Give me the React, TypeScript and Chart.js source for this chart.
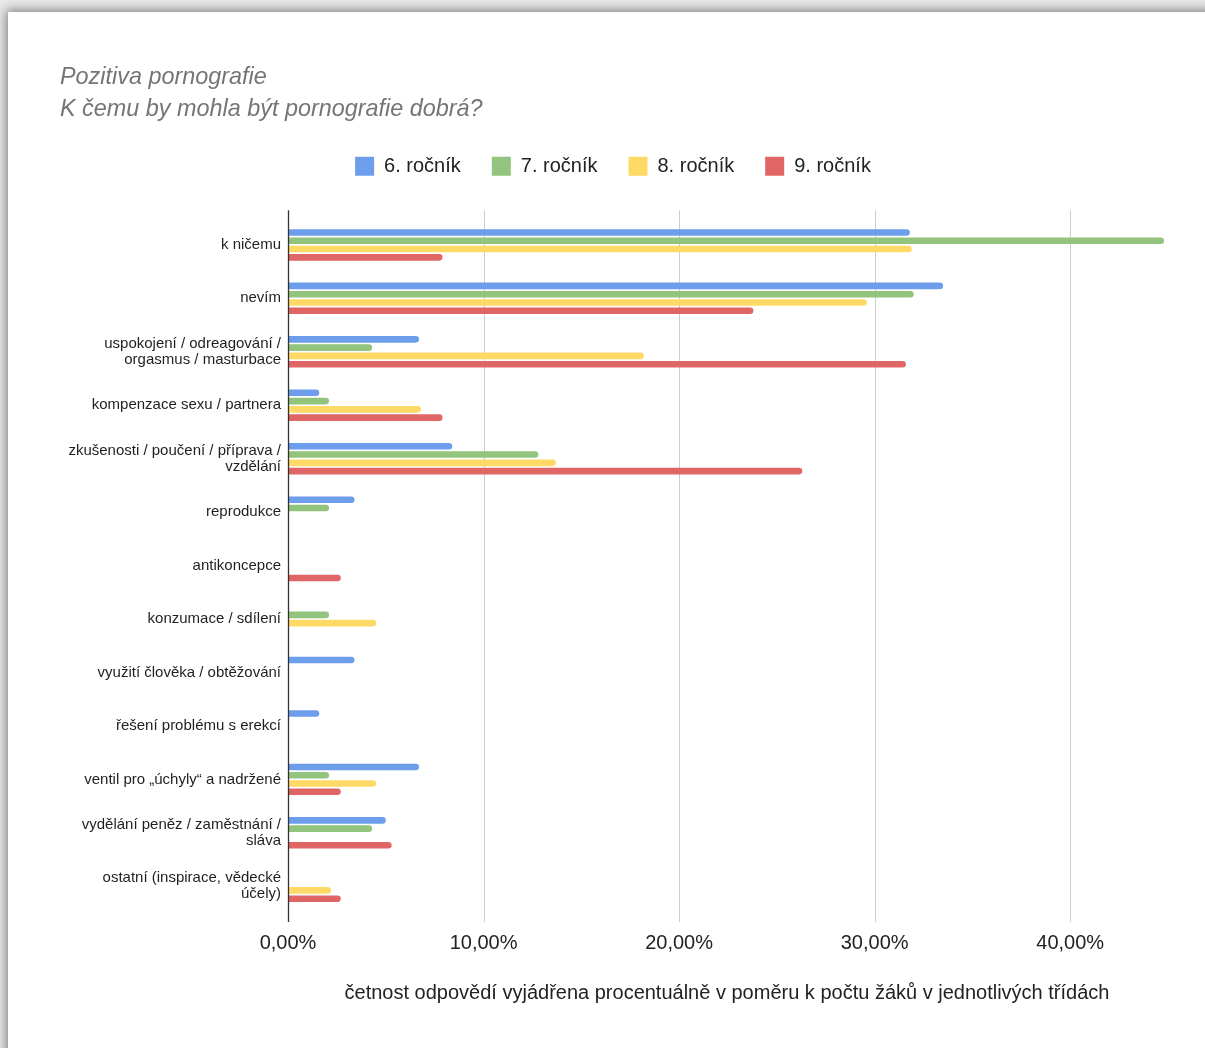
import React, { useEffect, useRef } from "react";
import { Chart, registerables } from "chart.js";

Chart.register(...registerables);

const categories: (string | string[])[] = [
  "k ničemu",
  "nevím",
  ["uspokojení / odreagování /", "orgasmus / masturbace"],
  "kompenzace sexu / partnera",
  ["zkušenosti / poučení / příprava /", "vzdělání"],
  "reprodukce",
  "antikoncepce",
  "konzumace / sdílení",
  "využití člověka / obtěžování",
  "řešení problému s erekcí",
  "ventil pro „úchyly“ a nadržené",
  ["vydělání peněz / zaměstnání /", "sláva"],
  ["ostatní (inspirace, vědecké", "účely)"],
];

const grade6 = [31.8, 33.5, 6.7, 1.6, 8.4, 3.4, 0, 0, 3.4, 1.6, 6.7, 5.0, 0];
const grade7 = [44.8, 32.0, 4.3, 2.1, 12.8, 2.1, 0, 2.1, 0, 0, 2.1, 4.3, 0];
const grade8 = [31.9, 29.6, 18.2, 6.8, 13.7, 0, 0, 4.5, 0, 0, 4.5, 0, 2.2];
const grade9 = [7.9, 23.8, 31.6, 7.9, 26.3, 0, 2.7, 0, 0, 0, 2.7, 5.3, 2.7];

const seriesLabels = ["6. ročník", "7. ročník", "8. ročník", "9. ročník"];
const seriesColors = ["#6d9eeb", "#93c47d", "#ffd966", "#e06666"];
const xTickValues = [0, 10, 20, 30, 40];
const xMax = 44.9;

const chartTitle = "Pozitiva pornografie";
const chartSubtitle = "K čemu by mohla být pornografie dobrá?";
const xAxisTitle =
  "četnost odpovědí vyjádřena procentuálně v poměru k počtu žáků v jednotlivých třídách";

const CANVAS_W = 1201;
const CANVAS_H = 1036;
const FONT = "'Liberation Sans', Arial, Helvetica, sans-serif";

export default function App() {
  const canvasRef = useRef<HTMLCanvasElement>(null);

  useEffect(() => {
    if (!canvasRef.current) return;

    const axisPlugin = {
      id: "extendedGrid",
      beforeDatasetsDraw(chart: any) {
        const { ctx, chartArea, scales } = chart;
        const xs = scales.x;
        const top = chartArea.top - 8;
        const bottom = chartArea.bottom + 9;
        ctx.save();
        ctx.lineWidth = 1;
        ctx.strokeStyle = "#cccccc";
        xs.ticks.forEach((t: any) => {
          if (t.value === 0) return;
          const px = Math.round(xs.getPixelForValue(t.value)) + 0.5;
          ctx.beginPath();
          ctx.moveTo(px, top);
          ctx.lineTo(px, bottom);
          ctx.stroke();
        });
        ctx.restore();
      },
      afterDatasetsDraw(chart: any) {
        const { ctx, chartArea, scales } = chart;
        const xs = scales.x;
        const px = Math.round(xs.getPixelForValue(0)) + 0.5;
        ctx.save();
        ctx.lineWidth = 1.3;
        ctx.strokeStyle = "#333333";
        ctx.beginPath();
        ctx.moveTo(px, chartArea.top - 8);
        ctx.lineTo(px, chartArea.bottom + 9);
        ctx.stroke();
        ctx.restore();
      },
    };

    const seriesData = [grade6, grade7, grade8, grade9];

    const chart = new Chart(canvasRef.current, {
      type: "bar",
      data: {
        labels: categories,
        datasets: seriesData.map((d, i) => ({
          label: seriesLabels[i],
          data: d,
          backgroundColor: seriesColors[i],
          borderColor: seriesColors[i],
          borderWidth: 0,
          borderRadius: 4,
          borderSkipped: "start",
          barPercentage: 0.8,
          categoryPercentage: 0.62,
        })),
      },
      options: {
        indexAxis: "y",
        responsive: false,
        animation: false,
        devicePixelRatio: 1,
        layout: { padding: { left: 52, right: 43, top: 0, bottom: 0 } },
        font: { family: FONT },
        plugins: {
          title: {
            display: true,
            text: chartTitle,
            align: "start",
            color: "#757575",
            font: { family: FONT, size: 23.4, style: "italic", weight: "normal", lineHeight: 1.2 },
            padding: { top: 51, bottom: 4 },
          },
          subtitle: {
            display: true,
            text: chartSubtitle,
            align: "start",
            color: "#757575",
            font: { family: FONT, size: 23.4, style: "italic", weight: "normal", lineHeight: 1.2 },
            padding: { top: 0, bottom: 2 },
          },
          legend: {
            display: true,
            position: "top",
            align: "center",
            labels: {
              boxWidth: 19,
              boxHeight: 19,
              padding: 31,
              color: "#222222",
              font: { family: FONT, size: 20 },
            },
          },
          tooltip: { enabled: false },
        },
        scales: {
          x: {
            type: "linear",
            position: "bottom",
            min: 0,
            max: xMax,
            grid: { display: false, drawTicks: false },
            border: { display: false },
            afterBuildTicks: (s: any) => {
              s.ticks = xTickValues.map((v) => ({ value: v }));
            },
            ticks: {
              includeBounds: false,
              padding: 18,
              color: "#222222",
              font: { family: FONT, size: 20 },
              callback: (v: any) => Number(v).toFixed(2).replace(".", ",") + "%",
            },
            title: {
              display: true,
              text: xAxisTitle,
              color: "#222222",
              font: { family: FONT, size: 20 },
              padding: { top: 0, bottom: 43 },
            },
            afterFit: (s: any) => {
              s.height = 135;
            },
          },
          xTop: {
            type: "linear",
            position: "top",
            display: true,
            grid: { display: false, drawTicks: false },
            border: { display: false },
            ticks: { display: false },
            afterFit: (s: any) => {
              s.height = 32;
            },
          },
          y: {
            type: "category",
            grid: { display: false, drawTicks: false },
            border: { display: false },
            ticks: {
              color: "#1f1f1f",
              padding: 7,
              font: { family: FONT, size: 15, lineHeight: "16px" },
              autoSkip: false,
            },
            afterFit: (s: any) => {
              s.width = 228;
            },
          },
        },
      },
      plugins: [axisPlugin],
    } as any);

    return () => {
      chart.destroy();
    };
  }, []);

  return (
    <div
      style={{
        position: "fixed",
        left: 0,
        top: 0,
        width: 1205,
        height: 1048,
        overflow: "hidden",
        background: "#e9e9e9",
      }}
    >
      <div
        style={{
          position: "absolute",
          left: 8,
          top: 12,
          width: 1260,
          height: 1100,
          background: "#ffffff",
          boxShadow: "0 0 10px 2px rgba(0,0,0,0.45)",
        }}
      >
        <canvas
          ref={canvasRef}
          width={CANVAS_W}
          height={CANVAS_H}
          style={{ display: "block", width: CANVAS_W, height: CANVAS_H }}
        />
      </div>
    </div>
  );
}
